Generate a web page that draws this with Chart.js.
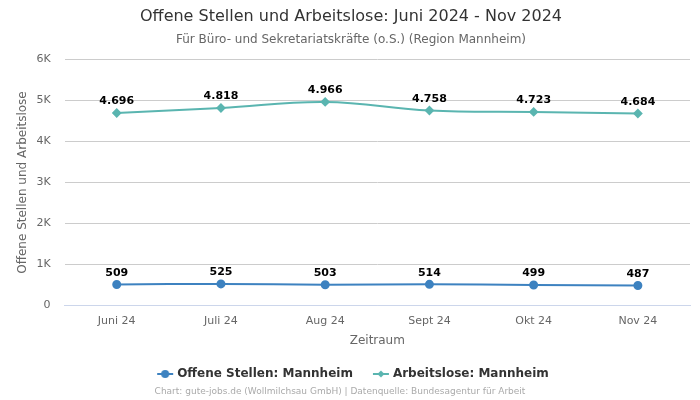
<!DOCTYPE html>
<html>
<head>
<meta charset="utf-8">
<script src="https://cdn.jsdelivr.net/npm/chart.js@4"></script>
<style>
  html, body { margin: 0; padding: 0; background: #fff; }
  #wrap { width: 700px; height: 400px; }
</style>
</head>
<body>
<div id="wrap"><canvas id="line-chart" width="700" height="400"></canvas></div>
<script>
const months = ['Juni 24', 'Juli 24', 'Aug 24', 'Sept 24', 'Okt 24', 'Nov 24'];
const offeneStellen = [509, 525, 503, 514, 499, 487];
const arbeitslose = [4696, 4818, 4966, 4758, 4723, 4684];
const yTicks = [0, 1000, 2000, 3000, 4000, 5000, 6000];

const FONT = 'DejaVu Sans';
const BLUE = '#3d82c0';
const TEAL = '#5ab5b0';

// legend icon: a short line with the point marker, pushed a little to the right
function legendIcon(color, style) {
  const c = document.createElement('canvas');
  c.width = 24; c.height = 10;
  const g = c.getContext('2d');
  g.strokeStyle = color; g.lineWidth = 2;
  g.beginPath(); g.moveTo(7, 5); g.lineTo(23, 5); g.stroke();
  g.fillStyle = color;
  g.beginPath();
  if (style === 'diamond') {
    g.moveTo(15, 1.5); g.lineTo(18.5, 5); g.lineTo(15, 8.5); g.lineTo(11.5, 5);
  } else {
    g.arc(15, 5, 4, 0, Math.PI * 2);
  }
  g.fill();
  return c;
}

const valueLabels = {
  id: 'valueLabels',
  afterDatasetsDraw(chart) {
    const ctx = chart.ctx;
    ctx.save();
    ctx.font = 'bold 11px ' + FONT;
    ctx.fillStyle = '#000';
    ctx.textAlign = 'center';
    ctx.textBaseline = 'bottom';
    chart.data.datasets.forEach((ds, i) => {
      chart.getDatasetMeta(i).data.forEach((pt, j) => {
        ctx.fillText(ds.data[j].toLocaleString('de-DE'), pt.x, pt.y - 6);
      });
    });
    ctx.restore();
  }
};

const footer = {
  id: 'footer',
  afterDraw(chart) {
    const ctx = chart.ctx;
    ctx.save();
    ctx.font = '9px ' + FONT;
    ctx.fillStyle = '#aaa';
    ctx.textAlign = 'center';
    ctx.textBaseline = 'middle';
    ctx.fillText('Chart: gute-jobs.de (Wollmilchsau GmbH) | Datenquelle: Bundesagentur für Arbeit', 340, 392);
    ctx.restore();
  }
};

const ctx = document.getElementById('line-chart').getContext('2d');
// eslint-disable-next-line no-unused-vars
const chart = new Chart(ctx, {
  type: 'line',
  data: {
    labels: months,
    datasets: [
      {
        label: 'Offene Stellen: Mannheim',
        data: offeneStellen,
        borderColor: BLUE,
        backgroundColor: BLUE,
        borderWidth: 2,
        pointStyle: 'circle',
        pointRadius: 3.5,
        tension: 0.4,
        fill: false,
      },
      {
        label: 'Arbeitslose: Mannheim',
        data: arbeitslose,
        borderColor: TEAL,
        backgroundColor: TEAL,
        borderWidth: 2,
        pointStyle: 'rectRot',
        pointRadius: 3.5,
        tension: 0.4,
        fill: false,
      },
    ],
  },
  options: {
    responsive: false,
    animation: false,
    layout: { padding: { left: 12, right: 10, top: 0, bottom: 10 } },
    scales: {
      x: {
        offset: true,
        grid: { display: false },
        border: { display: true, color: '#ccd6eb' },
        ticks: { color: '#666', font: { family: FONT, size: 11 }, padding: 1 },
        title: { display: true, text: 'Zeitraum', color: '#666', font: { family: FONT, size: 12 }, padding: { top: 5, bottom: 4 } },
      },
      y: {
        min: 0,
        max: 6000,
        afterBuildTicks(axis) { axis.ticks = yTicks.map((v) => ({ value: v })); },
        grid: { color: '#cccccc', drawTicks: true, tickLength: 8, tickColor: '#ffffff' },
        border: { display: false },
        ticks: {
          color: '#666',
          font: { family: FONT, size: 11 },
          padding: 6,
          callback: (v) => (v === 0 ? '0' : v / 1000 + 'K'),
        },
        title: {
          display: true,
          text: 'Offene Stellen und Arbeitslose',
          color: '#666',
          font: { family: FONT, size: 12 },
          padding: { top: 4, bottom: 0 },
        },
      },
    },
    plugins: {
      title: {
        display: true,
        text: 'Offene Stellen und Arbeitslose: Juni 2024 - Nov 2024',
        color: '#333',
        font: { family: FONT, size: 16, weight: 'normal' },
        padding: { top: 7, bottom: 6 },
      },
      subtitle: {
        display: true,
        text: 'Für Büro- und Sekretariatskräfte (o.S.) (Region Mannheim)',
        color: '#666',
        font: { family: FONT, size: 12 },
        padding: { bottom: 13 },
      },
      legend: {
        position: 'bottom',
        labels: {
          usePointStyle: true,
          pointStyleWidth: 18,
          color: '#333',
          font: { family: FONT, size: 12, weight: 'bold' },
          padding: 16,
          generateLabels(chart) {
            return chart.data.datasets.map((ds, i) => ({
              text: ds.label,
              pointStyle: legendIcon(ds.borderColor, i === 0 ? 'circle' : 'diamond'),
              fillStyle: ds.borderColor,
              strokeStyle: ds.borderColor,
              fontColor: '#333',
              lineWidth: 0,
              hidden: false,
              datasetIndex: i,
            }));
          },
        },
      },
      tooltip: { enabled: false },
    },
  },
  plugins: [valueLabels, footer],
});
</script>
</body>
</html>
